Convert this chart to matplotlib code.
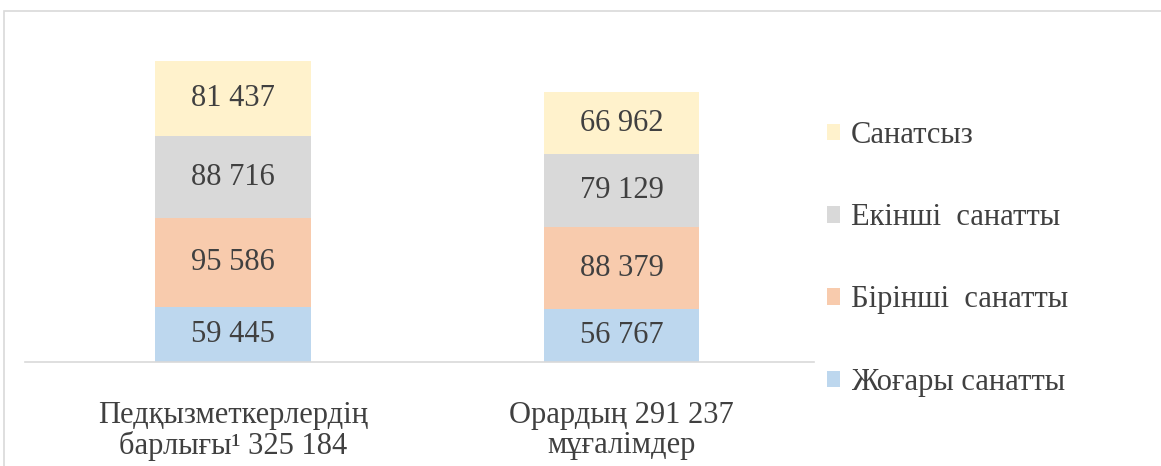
import matplotlib
matplotlib.use("Agg")
import matplotlib.pyplot as plt
from matplotlib.patches import Patch, Rectangle

plt.rcParams['font.family'] = ['Liberation Serif', 'DejaVu Serif']

# данные
categories = ["Педқызметкерлердің\nбарлығы¹ 325 184", "Орардың 291 237\nмұғалімдер"]
series_names = ["Жоғары санатты", "Бірінші  санатты", "Екінші  санатты", "Санатсыз"]
jogary = [59445, 56767]
birinshi = [95586, 88379]
ekinshi = [88716, 79129]
sanatsyz = [81437, 66962]
series = [jogary, birinshi, ekinshi, sanatsyz]
colors = ["#BDD7EE", "#F8CBAD", "#D9D9D9", "#FFF2CC"]
txt_color = "#404040"

fig = plt.figure(figsize=(11.61, 4.66), dpi=100)
ax = fig.add_axes([0.0215, 0.2232, 0.680, 0.734])

x = list(range(len(categories)))
bottom = [0, 0]
for vals, col, name in zip(series, colors, series_names):
    bars = ax.bar(x, vals, width=0.40, bottom=bottom, color=col, label=name)
    for xi, v, b in zip(x, vals, bottom):
        ax.text(xi, b + v / 2, f"{v:,}".replace(",", " "), ha='center', va='center',
                fontsize=22, color=txt_color)
    bottom = [b + v for b, v in zip(bottom, vals)]

ax.set_xlim(-0.535, 1.496)
ax.set_ylim(0, 369000)
for s in ['top', 'right', 'left']:
    ax.spines[s].set_visible(False)
ax.spines['bottom'].set_color('#D9D9D9')
ax.spines['bottom'].set_linewidth(1.2)
ax.set_yticks([])
ax.set_xticks(x)
ax.set_xticklabels(categories, fontsize=22, color=txt_color, linespacing=1.05)
ax.tick_params(axis='x', length=0, pad=28)

handles = [Patch(facecolor=c, edgecolor='none') for c in colors][::-1]
leg = fig.legend(handles, series_names[::-1], loc='upper left',
                 bbox_to_anchor=(0.712, 0.74), frameon=False, fontsize=22,
                 handlelength=0.45, handleheight=0.45, handletextpad=0.35,
                 labelspacing=1.74, labelcolor=txt_color,
                 borderpad=0, borderaxespad=0)

# рамка
fig.patches.append(Rectangle((4 / 1161, -0.1), 1.2, (466 - 11) / 466 + 0.1,
                             transform=fig.transFigure, fill=False,
                             edgecolor='#D9D9D9', linewidth=1.2))

fig.savefig("out.png", dpi=100)
